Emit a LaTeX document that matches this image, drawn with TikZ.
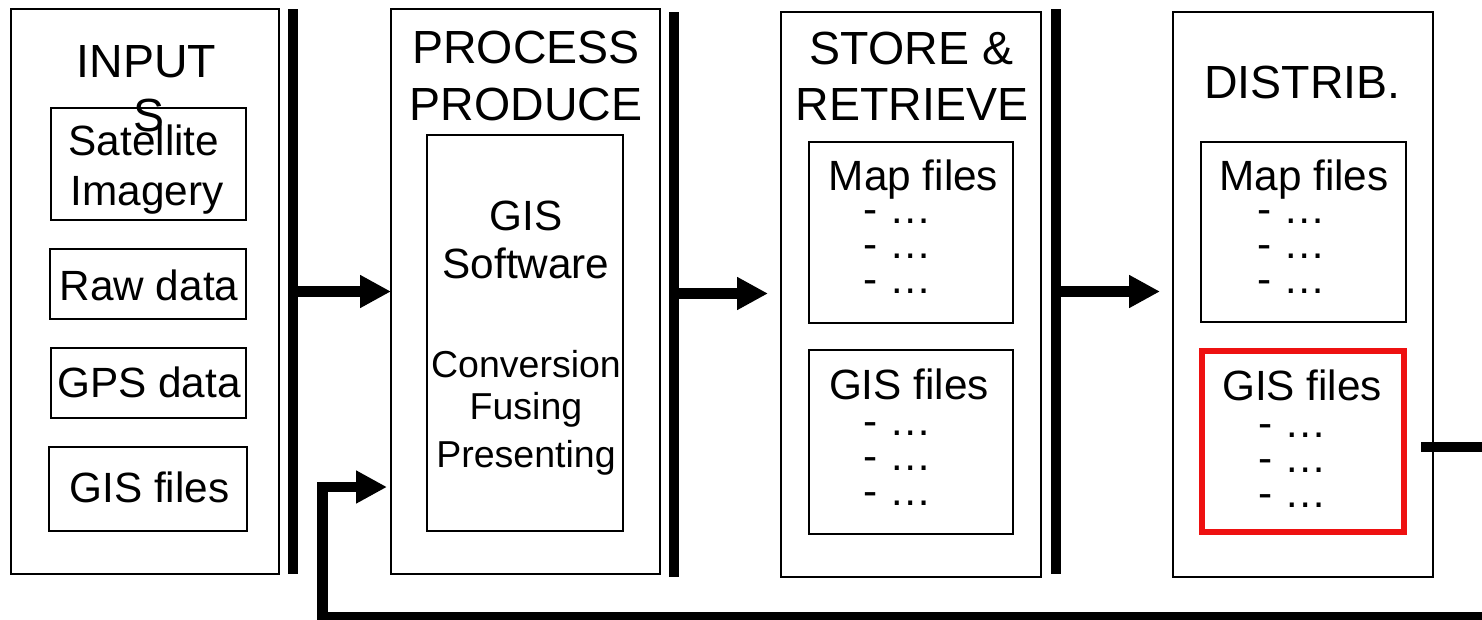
\documentclass[tikz,border=0pt]{standalone}
\usepackage{fontspec}
\setmainfont{Liberation Sans}
\usetikzlibrary{arrows.meta}
\definecolor{boxred}{HTML}{EE1111}
\newcommand\ttlfont{\fontsize{46.5}{54}\selectfont}
\newcommand\txtfont{\fontsize{42.3}{48}\selectfont}
\newcommand\smlfont{\fontsize{37.5}{44}\selectfont}
\tikzset{
  box/.style={draw=black, line width=1.5pt, inner sep=0pt, outer sep=0pt, fill=white},
  redbox/.style={draw=boxred, line width=6pt, inner sep=0pt, outer sep=0pt},
  bar/.style={fill=black, draw=none, inner sep=0pt, outer sep=0pt, minimum width=10pt, minimum height=565pt},
  ttl/.style={anchor=base, inner sep=0pt, font=\ttlfont},
  txt/.style={anchor=base, inner sep=0pt, font=\txtfont},
  sml/.style={anchor=base, inner sep=0pt, font=\smlfont},
  dsh/.style={anchor=base west, inner sep=0pt, font=\txtfont, text height=18pt, text depth=0pt},
  fatarrow/.style={line width=11pt, line join=miter, -{Triangle[length=31pt,width=31pt]}},
}
\begin{document}
\begin{tikzpicture}[x=1pt,y=-1pt]
\useasboundingbox (0,0) rectangle (1482,619);
\clip (0,0) rectangle (1482,619);

% outer column boxes
\node[box, minimum width=268pt, minimum height=565pt] (inp) at (145,291.5) {};
\node[box, minimum width=269pt, minimum height=565pt] (proc) at (525.5,291.5) {};
\node[box, minimum width=260pt, minimum height=565pt] (store) at (911,294.5) {};
\node[box, minimum width=260pt, minimum height=565pt] (dist) at (1303,294.5) {};

% bars
\node[bar] (bar1) at (293,291.5) {};
\node[bar] (bar2) at (674,294.5) {};
\node[bar] (bar3) at (1056,291.5) {};

% inputs
\node[box, minimum width=195pt, minimum height=112pt] (sat) at (148.5,164) {};
\node[box, minimum width=196pt, minimum height=70pt] (raw) at (148,284) {};
\node[box, minimum width=195pt, minimum height=70pt] (gps) at (148.5,383) {};
\node[box, minimum width=198pt, minimum height=84pt] (gisf) at (148,489) {};

\node[ttl] (tin1) at (146.5,77) {INPUT};
\node[ttl] (tin2) at (149,131) {S};
\node[txt] (tsat1) at (144,155) {Satellite};
\node[txt] (tsat2) at (147,205) {Imagery};
\node[txt] (traw) at (149,300) {Raw data};
\node[txt] (tgps) at (149,397) {GPS data};
\node[txt] (tgisf) at (149.5,502) {GIS files};

% process
\node[box, minimum width=196pt, minimum height=396pt] (gissw) at (525,333) {};
\node[ttl] (tpr1) at (526,63) {PROCESS};
\node[ttl] (tpr2) at (526,120) {PRODUCE};
\node[txt] (tsw1) at (526,230) {GIS};
\node[txt] (tsw2) at (526,278) {Software};
\node[sml] (tsw3) at (526,377) {Conversion};
\node[sml] (tsw4) at (526,419) {Fusing};
\node[sml] (tsw5) at (526,467) {Presenting};

% store
\node[box, minimum width=204pt, minimum height=181pt] (smap) at (911,232.5) {};
\node[box, minimum width=204pt, minimum height=184pt] (sgis) at (911,442) {};
\node[ttl] (tst1) at (911.5,64) {STORE \&};
\node[ttl] (tst2) at (912,120) {RETRIEVE};
\node[txt] (tsm) at (913.5,190) {Map files};
\node[dsh] (tsm1) at (863,223) {- …};
\node[dsh] (tsm2) at (863,258) {- …};
\node[dsh] (tsm3) at (863,293) {- …};
\node[txt] (tsg) at (909,399) {GIS files};
\node[dsh] (tsg1) at (863,435) {- …};
\node[dsh] (tsg2) at (863,470) {- …};
\node[dsh] (tsg3) at (863,505) {- …};

% distribute
\node[box, minimum width=205pt, minimum height=180pt] (dmap) at (1303.5,232) {};
\node[redbox, minimum width=202pt, minimum height=181pt] (dgis) at (1303,441.5) {};
\node[ttl] (tdi) at (1302.5,98) {DISTRIB.};
\node[txt] (tdm) at (1304,190) {Map files};
\node[dsh] (tdm1) at (1257,223) {- …};
\node[dsh] (tdm2) at (1257,258) {- …};
\node[dsh] (tdm3) at (1257,293) {- …};
\node[txt] (tdg) at (1302,400) {GIS files};
\node[dsh] (tdg1) at (1258,437) {- …};
\node[dsh] (tdg2) at (1258,472) {- …};
\node[dsh] (tdg3) at (1258,507) {- …};

% forward arrows
\draw[fatarrow] (bar1.east |- proc.west) -- (proc.west);
\draw[fatarrow, shorten >=13pt] ([yshift=1pt]bar2.east |- store.west) -- ([yshift=1pt]store.west);
\draw[fatarrow, shorten >=13pt] ([yshift=3pt]bar3.east |- dist.west) -- ([yshift=3pt]dist.west);

% feedback loop
\coordinate (fbs) at (1421,447);
\coordinate (fbr) at (1500,617);
\coordinate (fbl) at (322.5,617);
\coordinate (fbin) at (387,487);
\draw[fatarrow, line width=10.5pt] (fbs) -- (fbr |- fbs) -- (fbr) -- (fbl) -- (fbl |- fbin) -- (fbin);
\end{tikzpicture}
\end{document}
